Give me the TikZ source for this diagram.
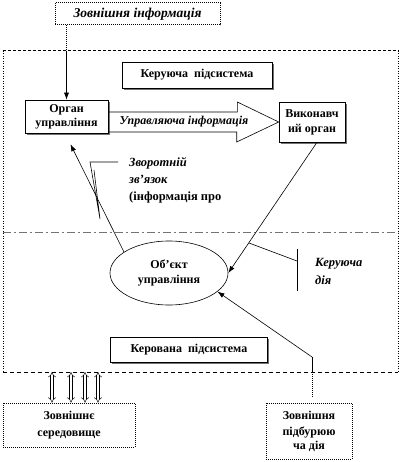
\documentclass[tikz,border=0pt]{standalone}
\usepackage{fontspec}
\setmainfont{Liberation Serif}
\newfontfamily\diagfont{Liberation Serif}
\usetikzlibrary{arrows.meta,shadows,shapes.geometric}

\begin{document}
\begin{tikzpicture}[x=1pt,y=-1pt]

        \tikzset{every node/.style={font=\diagfont\bfseries\fontsize{12}{15}\selectfont, align=center, inner sep=1pt},
                 shadowbox/.style={rectangle, draw=black, line width=0.6pt, fill=white,
                     drop shadow={shadow xshift=1.6pt, shadow yshift=-1.6pt, fill=black!55, opacity=1}},
                 dotbox/.style={rectangle, draw=black, densely dotted, line width=1pt, fill=white},
                 link/.style={draw=black, line width=0.6pt, -{Latex[length=7pt,width=5pt]}},
                 envarrow/.style={double, double distance=2.2pt, line width=0.5pt, {Implies}-{Implies}},
                 pointer/.style={draw=black, line width=0.6pt}}

        \useasboundingbox (0,0) rectangle (402,462);

        % frame of the whole system (drawn edge by edge below)
        \node[rectangle, minimum width=395pt, minimum height=321pt, inner sep=0pt] (sys) at (200.5,211.5) {};

        \draw[line width=0.6pt, dash pattern=on 3pt off 2pt] (sys.north west) -- (sys.north east);
        \draw[line width=0.6pt, dash pattern=on 1pt off 1.5pt] (sys.north west) -- (sys.south west);
        \draw[line width=0.6pt, dash pattern=on 1pt off 1.5pt] (sys.north east) -- (sys.south east);
        \draw[line width=0.6pt, dash pattern=on 4.5pt off 2.5pt] (sys.south west) -- (sys.south east);

        % border between the two subsystems
        \coordinate (sepl) at (3,232);
        \coordinate (sepr) at (398,232);
        \draw[black!55, line width=0.9pt, dash pattern=on 8pt off 3pt on 2pt off 3pt] (sepl) -- (sepr);

        % input on top
        \node[dotbox, minimum width=165pt, minimum height=22pt, font=\diagfont\bfseries\itshape\fontsize{13.5}{15}\selectfont] (info) at (137.5,14) {Зовнішня інформація};

        % upper subsystem
        \node[shadowbox, minimum width=150pt, minimum height=26pt] (upper) at (197,75) {Керуюча\ \ підсистема};
        \node[shadowbox, minimum width=83pt, minimum height=33pt] (organ) at (66.5,116.5) {Орган\\[-1pt]управління};
        \node[shadowbox, minimum width=66pt, minimum height=40pt] (exec) at (312,122) {Виконавч\\ий орган};

        % lower subsystem
        \node[ellipse, draw=black, line width=0.6pt, minimum width=118pt, minimum height=64pt] (object) at (169,273) {Об’єкт\\управління};
        \node[shadowbox, minimum width=157pt, minimum height=25pt] (lower) at (189,350) {Керована\ \ підсистема};

        % surroundings below
        \node[dotbox, minimum width=132pt, minimum height=44pt] (env) at (69,425) {Зовнішнє\\[2pt]середовище};
        \node[dotbox, minimum width=86pt, minimum height=56pt] (dist) at (309,431) {Зовнішня\\[1pt]підбурюю\\[-1pt]ча дія};

        % labels
        \node[anchor=west, align=left, font=\diagfont\bfseries\fontsize{12.5}{17}\selectfont] (fb) at (128,180) {\textit{Зворотній}\\\textit{зв’язок}\\(інформація про};
        \node[anchor=west, align=left, font=\diagfont\bfseries\fontsize{12.5}{18}\selectfont] (act) at (314,271) {\textit{Керуюча}\\\textit{дія}};

        % information coming in
        \coordinate (infoin) at (66.5,51);
        \draw[line width=1pt, densely dotted] (info.south -| organ.north) -- (infoin);
        \draw[link] (infoin) -- (organ.north);

        % control information, wide arrow
        \draw[line width=0.6pt] ([yshift=10pt]organ.east |- exec.west) -- ++(129,0) -- ++(0,-10)
            -- (exec.west) -- ++(-42,20) -- ++(0,-10) -- ([yshift=-10pt]organ.east |- exec.west);
        \node[font=\diagfont\bfseries\itshape\fontsize{12}{15}\selectfont] (ctrl) at (184,122) {Управляюча інформація};

        % control action and feedback
        \draw[link] ([xshift=5pt]exec.south) -- (object.east);
        \draw[link] (object.155) -- ([xshift=4pt, yshift=-11pt]organ.south);

        % disturbance
        \coordinate (kink) at (312,357);
        \draw[link] (kink) -- (object.-21);
        \draw[line width=0.6pt] (kink) -- (kink |- sys.south);
        \draw[line width=1pt, densely dotted] (kink |- sys.south) -- ([xshift=3pt, yshift=5pt]dist.north);

        % exchange with the surroundings
        \foreach \x in {52,71,85,98}
            \draw[envarrow] (\x,0 |- sys.south) -- (\x,0 |- env.north);

        % pointers of the two labels
        \coordinate (fbhook) at (118,162);
        \coordinate (fbbend) at (90,162);
        \coordinate (fbtip) at (100,219);
        \coordinate (fbback) at (94,170);
        \draw[pointer] (fbhook) -- (fbbend) -- (fbtip) -- (fbback);

        \coordinate (acttop) at (297,249);
        \coordinate (actbot) at (297,291);
        \coordinate (actmid) at (297,261);
        \coordinate (acttip) at (249,243);
        \draw[pointer] (acttop) -- (actbot);
        \draw[pointer] (actmid) -- (acttip);

    \end{tikzpicture}
\end{document}
